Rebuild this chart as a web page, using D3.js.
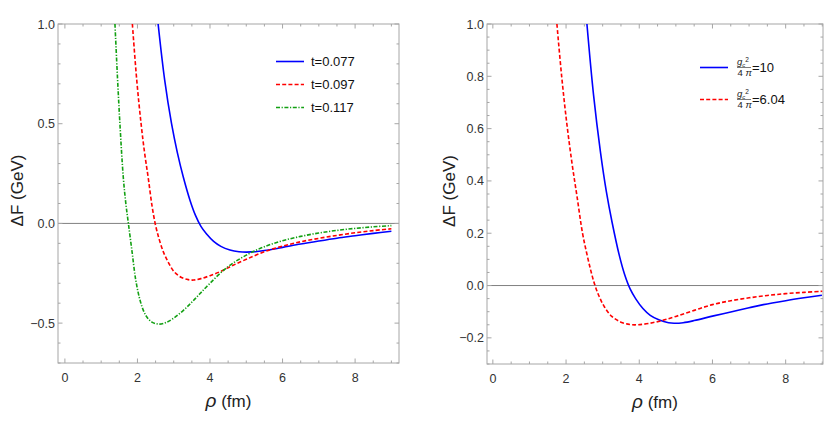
<!DOCTYPE html>
<html>
<head>
<meta charset="utf-8">
<script src="https://cdn.jsdelivr.net/npm/d3@7"></script>
<style>
  body { margin: 0; background: #fff; }
  text { font-family: "Liberation Sans", Arial, sans-serif; }
</style>
</head>
<body>
<div id="chart"></div>
<script>
// values
var leftBlueX = [2.57, 2.75, 2.94, 3.10, 3.26, 3.45, 3.60, 3.75, 3.90, 4.10, 4.30, 4.55, 4.80, 5.00, 5.30, 5.60, 6.0, 6.5, 7.0, 7.5, 8.0, 8.5, 9.0];
var leftBlueY = [1.0, 0.72, 0.50, 0.355, 0.235, 0.115, 0.04, -0.015, -0.052, -0.090, -0.115, -0.133, -0.142, -0.144, -0.141, -0.133, -0.120, -0.103, -0.088, -0.074, -0.062, -0.050, -0.039];

var leftRedX = [1.86, 1.98, 2.10, 2.20, 2.30, 2.40, 2.50, 2.60, 2.72, 2.85, 3.00, 3.20, 3.40, 3.55, 3.75, 4.0, 4.3, 4.6, 5.0, 5.5, 6.0, 6.5, 7.0, 7.5, 8.0, 8.5, 9.0];
var leftRedY = [1.0, 0.72, 0.50, 0.35, 0.225, 0.09, -0.01, -0.08, -0.145, -0.195, -0.24, -0.270, -0.282, -0.284, -0.277, -0.262, -0.240, -0.213, -0.180, -0.142, -0.114, -0.092, -0.075, -0.060, -0.047, -0.036, -0.027];

var leftGreenX = [1.38, 1.45, 1.52, 1.61, 1.68, 1.75, 1.85, 1.95, 2.05, 2.15, 2.25, 2.40, 2.60, 2.80, 3.00, 3.26, 3.50, 3.72, 4.00, 4.46, 5.00, 5.50, 6.00, 6.50, 7.00, 7.50, 8.00, 8.50, 9.00];
var leftGreenY = [1.0, 0.73, 0.49, 0.23, 0.10, 0.0, -0.14, -0.28, -0.37, -0.43, -0.467, -0.495, -0.505, -0.496, -0.475, -0.437, -0.395, -0.353, -0.300, -0.222, -0.159, -0.117, -0.087, -0.065, -0.048, -0.035, -0.025, -0.017, -0.011];

var rightBlueX = [2.57, 2.75, 2.94, 3.10, 3.26, 3.45, 3.60, 3.75, 3.90, 4.10, 4.30, 4.55, 4.80, 4.95, 5.20, 5.50, 6.03, 6.5, 7.0, 7.39, 8.0, 8.5, 8.99];
var rightBlueY = [1.0, 0.73, 0.51, 0.36, 0.24, 0.118, 0.042, -0.013, -0.050, -0.088, -0.114, -0.132, -0.142, -0.144, -0.142, -0.134, -0.116, -0.101, -0.085, -0.073, -0.058, -0.047, -0.037];

var rightRedX = [1.75, 1.88, 2.02, 2.16, 2.30, 2.45, 2.57, 2.68, 2.78, 2.90, 3.05, 3.25, 3.50, 3.75, 3.95, 4.25, 4.62, 5.0, 5.5, 6.0, 6.5, 7.0, 7.5, 8.0, 8.5, 9.0];
var rightRedY = [1.0, 0.80, 0.62, 0.47, 0.34, 0.20, 0.12, 0.055, 0.005, -0.040, -0.082, -0.118, -0.140, -0.149, -0.150, -0.145, -0.134, -0.118, -0.095, -0.073, -0.058, -0.047, -0.038, -0.031, -0.026, -0.022];

var xTicks = [0, 2, 4, 6, 8];
var leftYTicks = [-0.5, 0.0, 0.5, 1.0];
var rightYTicks = [-0.2, 0.0, 0.2, 0.4, 0.6, 0.8, 1.0];
var leftLabels = ["t=0.077", "t=0.097", "t=0.117"];
var rightLabels = ["10", "6.04"];

var width = 830, height = 424;

var svg = d3.select("#chart").append("svg")
    .attr("width", width)
    .attr("height", height);

function zip(xs, ys) {
    return xs.map(function(x, i) { return [x, ys[i]]; });
}

var styles = {
    blue:  {color: "#0000ff", dash: null},
    red:   {color: "#ff0000", dash: "4,2.2"},
    green: {color: "#12a012", dash: "4,1.6,1.2,1.6"}
};

function drawPanel(p) {
    var x = d3.scaleLinear().domain(p.xDomain).range([p.left, p.right]);
    var y = d3.scaleLinear().domain(p.yDomain).range([p.bottom, p.top]);

    var g = svg.append("g");

    g.append("defs").append("clipPath")
        .attr("id", p.id + "clip")
        .append("rect")
        .attr("x", p.left).attr("y", p.top)
        .attr("width", p.right - p.left).attr("height", p.bottom - p.top);

    // zero line
    g.append("line")
        .attr("x1", p.left).attr("x2", p.right)
        .attr("y1", y(0)).attr("y2", y(0))
        .attr("stroke", "#808080").attr("stroke-width", 1);

    // frame
    g.append("rect")
        .attr("x", p.left).attr("y", p.top)
        .attr("width", p.right - p.left).attr("height", p.bottom - p.top)
        .attr("fill", "none").attr("stroke", "#a6a6a6").attr("stroke-width", 1);

    var xMinor = d3.range(0, 9.01, 0.5);
    var yMinor = d3.range(p.yDomain[0] < -0.5 ? -0.7 : -0.3, 1.001, p.yMinorStep).map(function(v) { return Math.round(v * 100) / 100; });

    // ticks on all four sides, pointing inward
    var tg = g.append("g").attr("stroke", "#a6a6a6").attr("stroke-width", 1);
    xMinor.forEach(function(v) {
        var major = xTicks.indexOf(v) >= 0;
        var len = major ? 4.5 : 2.5;
        tg.append("line").attr("x1", x(v)).attr("x2", x(v)).attr("y1", p.bottom).attr("y2", p.bottom - len);
        tg.append("line").attr("x1", x(v)).attr("x2", x(v)).attr("y1", p.top).attr("y2", p.top + len);
    });
    yMinor.forEach(function(v) {
        var major = p.yTicks.some(function(t) { return Math.abs(t - v) < 1e-6; });
        var len = major ? 4.5 : 2.5;
        tg.append("line").attr("y1", y(v)).attr("y2", y(v)).attr("x1", p.left).attr("x2", p.left + len);
        tg.append("line").attr("y1", y(v)).attr("y2", y(v)).attr("x1", p.right).attr("x2", p.right - len);
    });

    // tick labels
    g.selectAll(".xl").data(xTicks).enter().append("text")
        .attr("x", function(d) { return x(d); })
        .attr("y", p.bottom + 19)
        .attr("text-anchor", "middle")
        .attr("font-size", 12.5)
        .attr("fill", "#333")
        .text(function(d) { return d; });

    g.selectAll(".yl").data(p.yTicks).enter().append("text")
        .attr("x", p.left - 3)
        .attr("y", function(d) { return y(d) + 4.5; })
        .attr("text-anchor", "end")
        .attr("font-size", 12.5)
        .attr("fill", "#333")
        .text(function(d) { return (d < 0 ? "\u2212" : "") + d3.format(".1f")(Math.abs(d)); });

    // axis titles
    g.append("text")
        .attr("transform", "translate(" + p.yTitleX + "," + ((p.top + p.bottom) / 2 - 3) + ") rotate(-90)")
        .attr("text-anchor", "middle")
        .attr("font-size", 17)
        .attr("fill", "#222")
        .text("\u0394F (GeV)");

    var xt = g.append("text")
        .attr("x", (p.left + p.right) / 2)
        .attr("y", p.bottom + 44)
        .attr("text-anchor", "middle")
        .attr("font-size", 17)
        .attr("fill", "#222");
    xt.append("tspan").attr("font-style", "italic").attr("font-size", 19).text("\u03c1");
    xt.append("tspan").text(" (fm)");

    var line = d3.line()
        .x(function(d) { return x(d[0]); })
        .y(function(d) { return y(d[1]); })
        .curve(d3.curveCatmullRom.alpha(0.5));

    var cg = g.append("g").attr("clip-path", "url(#" + p.id + "clip)");
    p.series.forEach(function(s) {
        cg.append("path")
            .datum(s.data)
            .attr("d", line)
            .attr("fill", "none")
            .attr("stroke", styles[s.style].color)
            .attr("stroke-width", 1.6)
            .attr("stroke-dasharray", styles[s.style].dash);
    });

    return g;
}

var leftG = drawPanel({
    id: "left", left: 58, right: 399, top: 24, bottom: 363,
    xDomain: [-0.19, 9.21], yDomain: [-0.7, 1.0], yTicks: leftYTicks, yMinorStep: 0.1,
    yTitleX: 23,
    series: [
        {style: "blue", data: zip(leftBlueX, leftBlueY)},
        {style: "red", data: zip(leftRedX, leftRedY)},
        {style: "green", data: zip(leftGreenX, leftGreenY)}
    ]
});

var rightG = drawPanel({
    id: "right", left: 487, right: 823, top: 24, bottom: 364,
    xDomain: [-0.16, 9.02], yDomain: [-0.3, 1.0], yTicks: rightYTicks, yMinorStep: 0.05,
    yTitleX: 455,
    series: [
        {style: "blue", data: zip(rightBlueX, rightBlueY)},
        {style: "red", data: zip(rightRedX, rightRedY)}
    ]
});

// left legend
var legL = svg.append("g");
["blue", "red", "green"].forEach(function(s, i) {
    var yy = 61.5 + i * 23;
    legL.append("line")
        .attr("x1", 276).attr("x2", 304).attr("y1", yy).attr("y2", yy)
        .attr("stroke", styles[s].color).attr("stroke-width", 1.6)
        .attr("stroke-dasharray", styles[s].dash);
    legL.append("text")
        .attr("x", 311).attr("y", yy + 4.5)
        .attr("font-size", 13).attr("fill", "#111")
        .text(leftLabels[i]);
});

// right legend with g_c^2 / 4 pi fraction
var legR = svg.append("g");
["blue", "red"].forEach(function(s, i) {
    var yy = 67.5 + i * 32;
    legR.append("line")
        .attr("x1", 700).attr("x2", 728).attr("y1", yy).attr("y2", yy)
        .attr("stroke", styles[s].color).attr("stroke-width", 1.6)
        .attr("stroke-dasharray", styles[s].dash);
    var fx = 737;
    var num = legR.append("text").attr("x", fx).attr("y", yy - 2.5)
        .attr("font-size", 9.5).attr("fill", "#222");
    num.append("tspan").attr("font-style", "italic").text("g");
    num.append("tspan").attr("font-size", 6).attr("dy", 1.5).attr("font-style", "italic").text("c");
    num.append("tspan").attr("font-size", 6.5).attr("dy", -5).text("2");
    legR.append("line")
        .attr("x1", fx).attr("x2", fx + 14).attr("y1", yy).attr("y2", yy)
        .attr("stroke", "#444").attr("stroke-width", 0.7);
    var den = legR.append("text").attr("x", fx + 0.5).attr("y", yy + 8.5)
        .attr("font-size", 9.5).attr("fill", "#222");
    den.append("tspan").text("4 ");
    den.append("tspan").attr("font-style", "italic").text("\u03c0");
    legR.append("text")
        .attr("x", fx + 15).attr("y", yy + 4.5)
        .attr("font-size", 13).attr("fill", "#111")
        .text("=" + rightLabels[i]);
});
</script>
</body>
</html>
